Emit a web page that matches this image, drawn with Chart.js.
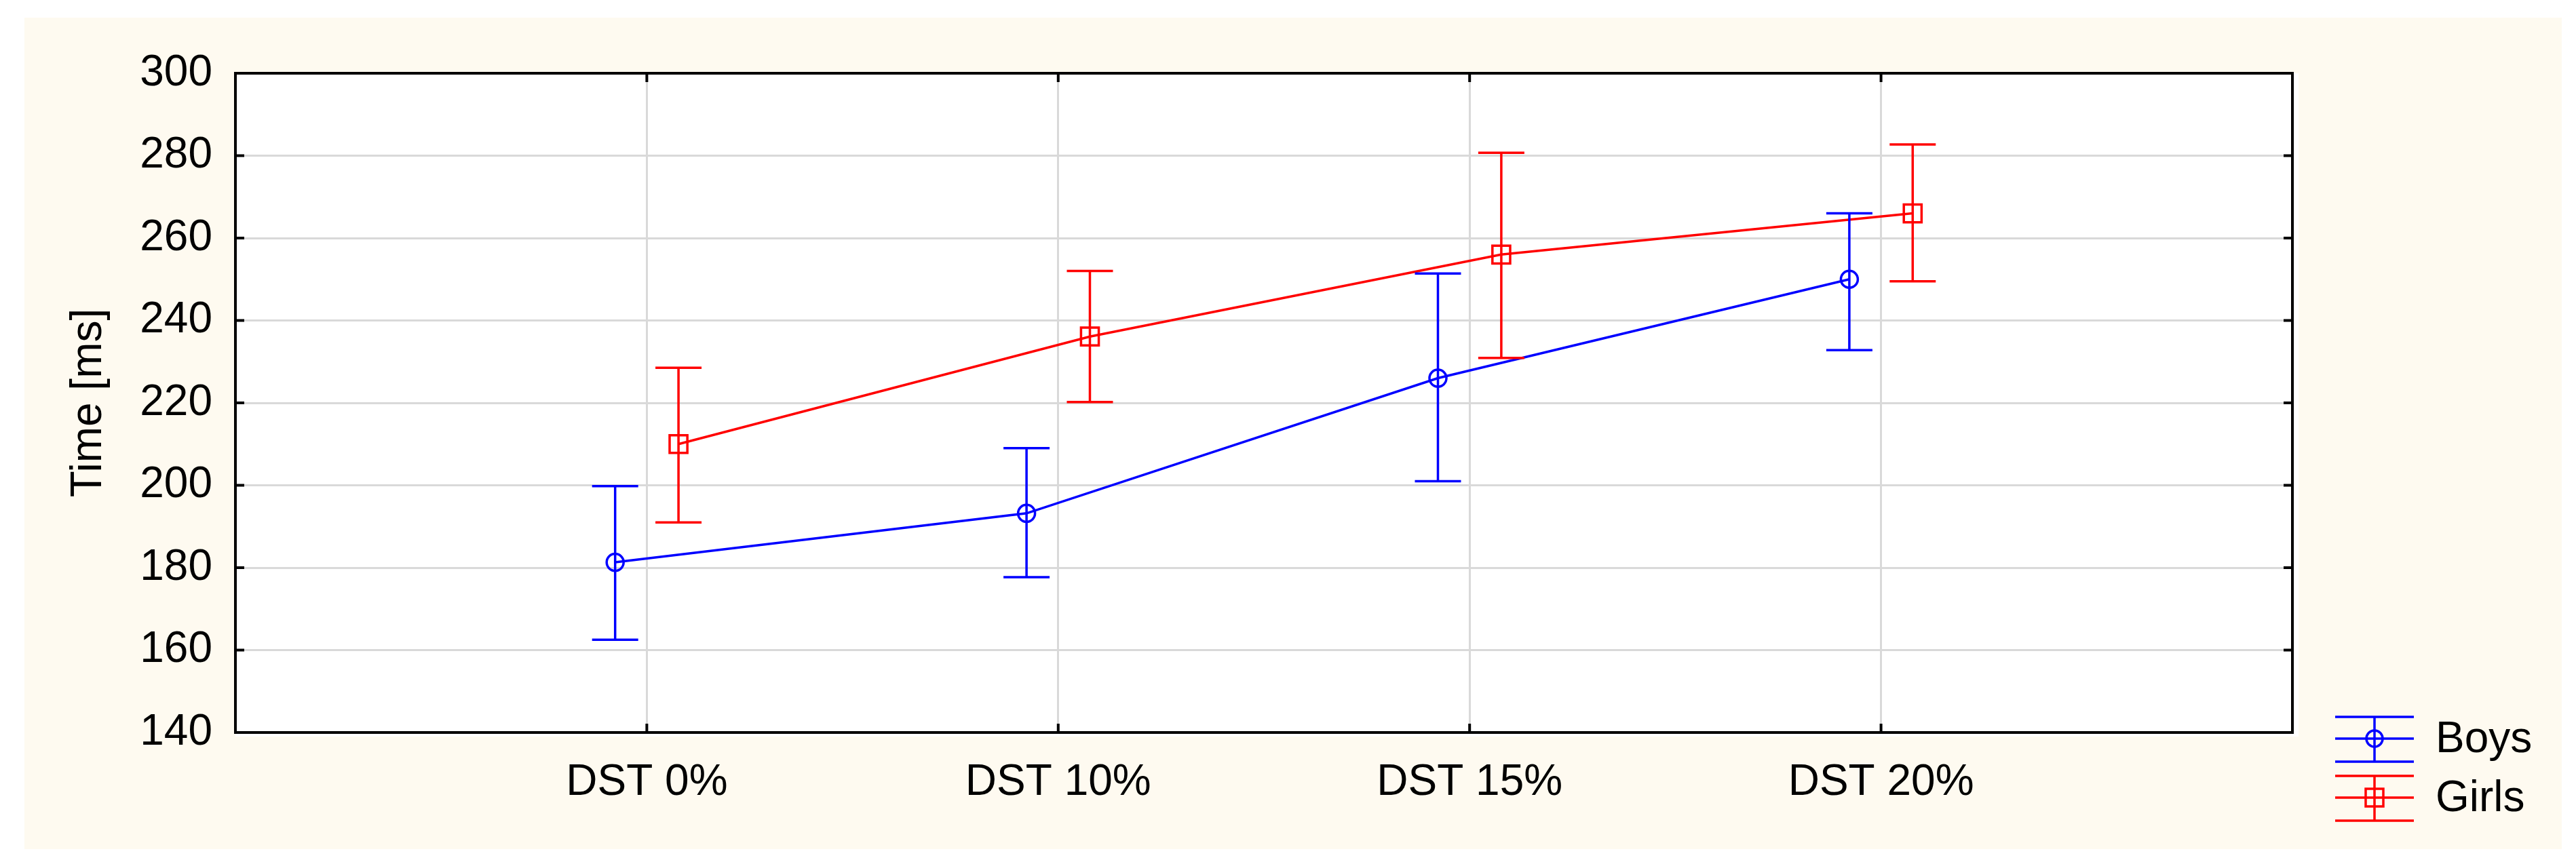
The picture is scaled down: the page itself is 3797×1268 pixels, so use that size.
<!DOCTYPE html>
<html>
<head>
<meta charset="utf-8">
<title>Time [ms] by DST</title>
<script src="https://cdn.jsdelivr.net/npm/chart.js@4.4.1/dist/chart.umd.min.js"></script>
<style>
  html, body { margin: 0; padding: 0; background: #ffffff; }
  #wrap { width: 3797px; height: 1268px; }
</style>
</head>
<body>
<div id="wrap"><canvas id="timeChart" width="3797" height="1268"></canvas></div>
<script>
// Values (means with their error-bar ends)
const categories = ['DST 0%', 'DST 10%', 'DST 15%', 'DST 20%'];
const seriesNames = ['Boys', 'Girls'];

const boysMean = [181.3, 193.2, 226.0, 250.0];
const boysLow  = [162.5, 177.7, 201.0, 232.8];
const boysHigh = [199.8, 209.0, 251.4, 266.0];

const girlsMean = [210.0, 236.1, 256.0, 266.0];
const girlsLow  = [191.0, 220.2, 230.9, 249.5];
const girlsHigh = [228.5, 252.0, 280.7, 282.7];

const yTicks = [140, 160, 180, 200, 220, 240, 260, 280, 300];

// Look
const BLUE = '#0000ff';
const RED = '#ff0000';
const GRID = '#d9d9d9';
const CREAM = '#fefaf0';
const FONT = '"Liberation Sans", Arial, sans-serif';
const DODGE = 0.077;      // side shift of each group around its category
const CAP = 34;           // half width of error-bar caps, px

Chart.defaults.font.family = FONT;
Chart.defaults.color = '#000000';

const series = [
    { label: seriesNames[0], mean: boysMean, low: boysLow, high: boysHigh, color: BLUE, style: 'circle', radius: 12.5, shift: -DODGE },
    { label: seriesNames[1], mean: girlsMean, low: girlsLow, high: girlsHigh, color: RED, style: 'rect', radius: 18.5, shift: DODGE }
];

/**
 * Page background, cream panel and white plot area
 */
const backdrop = {
    id: 'backdrop',
    beforeDraw(chart) {
        const { ctx, chartArea: a } = chart;
        ctx.save();
        ctx.fillStyle = '#ffffff';
        ctx.fillRect(0, 0, chart.width, chart.height);
        ctx.fillStyle = CREAM;
        ctx.fillRect(36, 26, 3740, 1226);
        ctx.fillStyle = '#ffffff';
        ctx.fillRect(a.left, a.top, a.width + 9, a.height + 6);
        ctx.restore();
    }
};

/**
 * Black frame round the plot with short inward ticks
 */
const frame = {
    id: 'frame',
    beforeDatasetsDraw(chart) {
        const { ctx, chartArea: a, scales } = chart;
        const len = 13;
        ctx.save();
        ctx.strokeStyle = '#000000';
        ctx.lineWidth = 4;
        ctx.strokeRect(a.left, a.top, a.width, a.height);
        ctx.beginPath();
        yTicks.slice(1, -1).forEach(v => {
            const y = scales.y.getPixelForValue(v);
            ctx.moveTo(a.left, y); ctx.lineTo(a.left + len, y);
            ctx.moveTo(a.right, y); ctx.lineTo(a.right - len, y);
        });
        categories.forEach((c, i) => {
            const x = scales.x.getPixelForValue(i + 1);
            ctx.moveTo(x, a.top); ctx.lineTo(x, a.top + len);
            ctx.moveTo(x, a.bottom); ctx.lineTo(x, a.bottom - len);
        });
        ctx.stroke();
        ctx.restore();
    }
};

/**
 * Error bars from the low / high arrays
 */
const errorBars = {
    id: 'errorBars',
    afterDatasetsDraw(chart) {
        const { ctx, scales } = chart;
        ctx.save();
        ctx.lineWidth = 3.5;
        series.forEach(s => {
            ctx.strokeStyle = s.color;
            ctx.beginPath();
            s.mean.forEach((m, i) => {
                const x = scales.x.getPixelForValue(i + 1 + s.shift);
                const yLo = scales.y.getPixelForValue(s.low[i]);
                const yHi = scales.y.getPixelForValue(s.high[i]);
                ctx.moveTo(x, yLo); ctx.lineTo(x, yHi);
                ctx.moveTo(x - CAP, yLo); ctx.lineTo(x + CAP, yLo);
                ctx.moveTo(x - CAP, yHi); ctx.lineTo(x + CAP, yHi);
            });
            ctx.stroke();
        });
        ctx.restore();
    }
};

/**
 * Legend at bottom right, whisker icon + name
 */
const whiskerLegend = {
    id: 'whiskerLegend',
    afterDraw(chart) {
        const { ctx } = chart;
        const x0 = 3442, x1 = 3558, xm = 3500, textX = 3590;
        const firstRow = 1089, rowGap = 87;
        ctx.save();
        ctx.lineWidth = 3.5;
        chart.data.datasets.forEach((ds, k) => {
            const s = series[k];
            const y = firstRow + k * rowGap;
            ctx.strokeStyle = s.color;
            ctx.beginPath();
            ctx.moveTo(x0, y - 32); ctx.lineTo(x1, y - 32);
            ctx.moveTo(x0, y); ctx.lineTo(x1, y);
            ctx.moveTo(x0, y + 34); ctx.lineTo(x1, y + 34);
            ctx.moveTo(xm, y - 32); ctx.lineTo(xm, y + 34);
            ctx.stroke();
            ctx.beginPath();
            if (s.style === 'circle') {
                ctx.arc(xm, y, 12, 0, Math.PI * 2);
            } else {
                ctx.rect(xm - 13, y - 13, 26, 26);
            }
            ctx.stroke();
            ctx.fillStyle = '#000000';
            ctx.font = '64px ' + FONT;
            ctx.textBaseline = 'middle';
            ctx.textAlign = 'left';
            ctx.fillText(ds.label, textX, y + 2);
        });
        ctx.restore();
    }
};

new Chart(document.getElementById('timeChart'), {
    type: 'scatter',
    data: {
        datasets: series.map(s => ({
            label: s.label,
            data: s.mean.map((v, i) => ({ x: i + 1 + s.shift, y: v })),
            showLine: true,
            borderColor: s.color,
            borderWidth: 3.5,
            tension: 0,
            pointStyle: s.style,
            pointRadius: s.radius,
            pointBorderWidth: 3.5,
            pointBorderColor: s.color,
            pointBackgroundColor: 'rgba(0,0,0,0)'
        }))
    },
    options: {
        responsive: false,
        animation: false,
        devicePixelRatio: 1,
        layout: { padding: { left: 0, top: 108, right: 418, bottom: 0 } },
        plugins: {
            legend: { display: false },
            tooltip: { enabled: false }
        },
        scales: {
            x: {
                type: 'linear',
                min: 0,
                max: categories.length + 1,
                afterFit: (scale) => { scale.height = 188; },
                ticks: {
                    stepSize: 1,
                    padding: 36,
                    maxRotation: 0,
                    autoSkip: false,
                    font: { size: 64 },
                    callback: (v) => categories[v - 1] || ''
                },
                grid: { color: GRID, lineWidth: 3, drawTicks: false },
                border: { display: false }
            },
            y: {
                min: yTicks[0],
                max: yTicks[yTicks.length - 1],
                afterFit: (scale) => { scale.width = 347; },
                ticks: {
                    stepSize: yTicks[1] - yTicks[0],
                    padding: 34,
                    font: { size: 64 }
                },
                grid: { color: GRID, lineWidth: 3, drawTicks: false },
                border: { display: false },
                title: {
                    display: true,
                    text: 'Time [ms]',
                    font: { size: 64 },
                    padding: { top: 93, bottom: 0 }
                }
            }
        }
    },
    plugins: [backdrop, frame, errorBars, whiskerLegend]
});
</script>
</body>
</html>
